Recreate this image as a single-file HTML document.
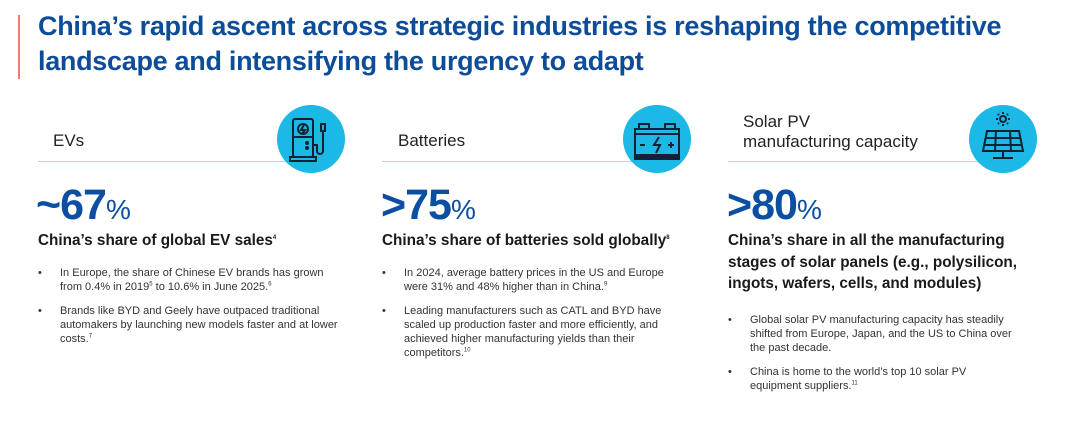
<!DOCTYPE html>
<html><head><meta charset="utf-8"><style>
body{margin:0;width:1080px;height:423px;background:#fff;font-family:"Liberation Sans",sans-serif;position:relative;overflow:hidden}
.a{position:absolute}
.title{left:38px;top:9px;color:#0d4c98;font-weight:bold;font-size:27px;line-height:35px;letter-spacing:-0.3px;white-space:nowrap}
.bar{left:18px;top:15px;width:2px;height:64px;background:#f07b6e}
.hd{font-size:17px;color:#222;line-height:20px}
.rule{height:1px;background:#a8dcec}
.circ{width:68px;height:68px;border-radius:50%;background:#1cb8e6}
.big{color:#0b4ea2;font-weight:bold;font-size:43px;letter-spacing:-1px}
.big span{font-weight:normal;font-size:28px;letter-spacing:0}
.sub{font-weight:bold;font-size:15.3px;color:#1a1a1a;line-height:21.5px}
ul{margin:0;padding:0;list-style:none}
li{position:relative;font-size:11px;color:#333;line-height:14px;margin-bottom:10px;padding-left:22px}
li:before{content:"•";position:absolute;left:0;top:0}
sup{font-size:6px;line-height:0}
</style></head><body>
<div class="a bar"></div>
<div class="a title">China’s rapid ascent across strategic industries is reshaping the competitive<br>landscape and intensifying the urgency to adapt</div>

<div class="a hd" style="left:53px;top:131px">EVs</div>
<div class="a rule" style="left:38px;top:161px;width:262px"></div>
<div class="a circ" style="left:277px;top:105px">
<svg width="68" height="68" viewBox="0 0 68 68" fill="none" stroke="#123" stroke-width="2"><rect x="16" y="14" width="20" height="38" rx="2"/><circle cx="26" cy="24" r="5"/><path d="M27 20l-3 5h4l-3 4"/><line x1="16" y1="32" x2="36" y2="32"/><circle cx="30" cy="38" r="1"/><circle cx="30" cy="43" r="1"/><rect x="13" y="52" width="26" height="4"/><path d="M36 40h4v6c0 4 6 4 6 0V26"/><rect x="44" y="19" width="4" height="7"/></svg></div>
<div class="a big" style="left:36px;top:181px">~67<span>%</span></div>
<div class="a sub" style="left:38px;top:230px">China’s share of global EV sales<sup>4</sup></div>
<ul class="a" style="left:38px;top:266px;width:310px">
<li>In Europe, the share of Chinese EV brands has grown from 0.4% in 2019<sup>5</sup> to 10.6% in June 2025.<sup>6</sup></li>
<li>Brands like BYD and Geely have outpaced traditional automakers by launching new models faster and at lower costs.<sup>7</sup></li>
</ul>

<div class="a hd" style="left:398px;top:131px">Batteries</div>
<div class="a rule" style="left:382px;top:161px;width:262px"></div>
<div class="a circ" style="left:623px;top:105px">
<svg width="68" height="68" viewBox="0 0 68 68" fill="none" stroke="#123" stroke-width="2"><rect x="12" y="24" width="44" height="28"/><rect x="16" y="19" width="10" height="5"/><rect x="42" y="19" width="10" height="5"/><line x1="12" y1="29" x2="56" y2="29"/><rect x="12" y="50" width="44" height="4"/><path d="M36 32l-5 8h6l-4 8"/><line x1="17" y1="40" x2="22" y2="40"/><line x1="45" y1="40" x2="51" y2="40"/><line x1="48" y1="37" x2="48" y2="43"/></svg></div>
<div class="a big" style="left:381px;top:181px">&gt;75<span>%</span></div>
<div class="a sub" style="left:382px;top:230px">China’s share of batteries sold globally<sup>8</sup></div>
<ul class="a" style="left:382px;top:266px;width:298px">
<li>In 2024, average battery prices in the US and Europe were 31% and 48% higher than in China.<sup>9</sup></li>
<li>Leading manufacturers such as CATL and BYD have scaled up production faster and more efficiently, and achieved higher manufacturing yields than their competitors.<sup>10</sup></li>
</ul>

<div class="a hd" style="left:743px;top:112px">Solar PV<br>manufacturing capacity</div>
<div class="a rule" style="left:728px;top:161px;width:262px"></div>
<div class="a circ" style="left:969px;top:105px">
<svg width="68" height="68" viewBox="0 0 68 68" fill="none" stroke="#123" stroke-width="2"><circle cx="34" cy="14" r="3"/><path d="M34 7v2M34 19v2M27 14h2M39 14h2M29 9l1 1M39 9l-1 1M29 19l1-1M39 19l-1-1"/><path d="M18 26h32l4 20H14z"/><line x1="16" y1="33" x2="52" y2="33"/><line x1="15" y1="40" x2="53" y2="40"/><line x1="27" y1="26" x2="26" y2="46"/><line x1="41" y1="26" x2="42" y2="46"/><line x1="34" y1="46" x2="34" y2="52"/><line x1="24" y1="53" x2="44" y2="53"/></svg></div>
<div class="a big" style="left:727px;top:181px">&gt;80<span>%</span></div>
<div class="a sub" style="left:728px;top:230px;width:310px">China’s share in all the manufacturing stages of solar panels (e.g., polysilicon, ingots, wafers, cells, and modules)</div>
<ul class="a" style="left:728px;top:313px;width:295px">
<li>Global solar PV manufacturing capacity has steadily shifted from Europe, Japan, and the US to China over the past decade.</li>
<li>China is home to the world’s top 10 solar PV<br>equipment suppliers.<sup>11</sup></li>
</ul>
</body></html>
